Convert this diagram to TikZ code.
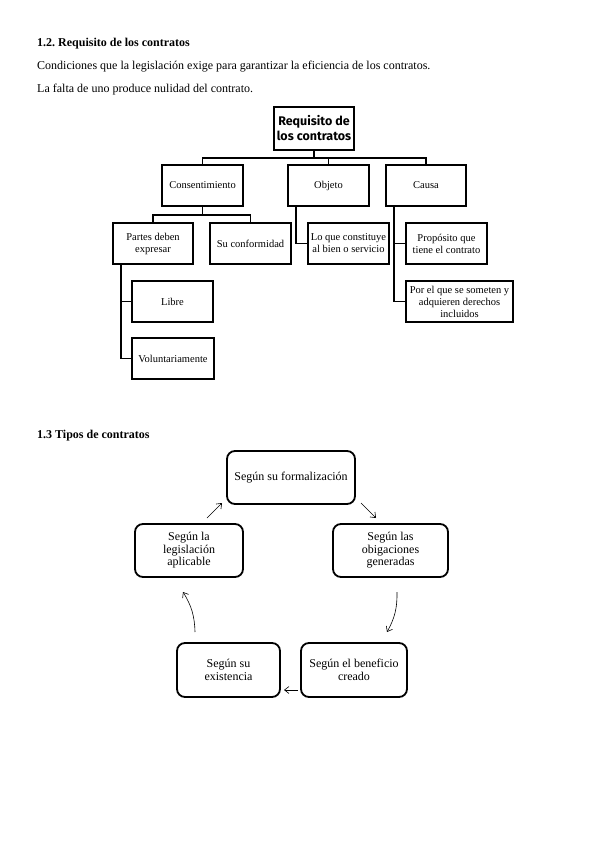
\documentclass[tikz,border=0pt]{standalone}
\usepackage{fontspec}
\setmainfont{Liberation Serif}
\newfontfamily\titlefont{Fira Sans}
\usetikzlibrary{arrows.meta}
\frenchspacing
\begin{document}
\begin{tikzpicture}[x=1pt,y=-1pt,
  treebox/.style={draw,line width=1.1pt,inner sep=1pt,align=center,font=\fontsize{10.5}{12}\selectfont},
  roundbox/.style={draw,line width=1.8pt,rounded corners=8pt,inner sep=1pt,align=center,font=\fontsize{12}{12.5}\selectfont},
  link/.style={line width=1.2pt},
  cyc/.style={line width=0.6pt,-{Straight Barb[length=4.5pt,width=7pt]}},
  txt/.style={anchor=west,inner sep=0pt,font=\fontsize{12}{14}\selectfont}]
\useasboundingbox (0,0) rectangle (599,848);
\fill[white] (0,0) rectangle (599,848);

% headings and text
\node[txt,font=\fontsize{12}{14}\selectfont\bfseries] (h1) at (37,44) {1.2. Requisito de los contratos};
\node[txt] (t1) at (37,67) {Condiciones que la legislación exige para garantizar la eficiencia de los contratos.};
\node[txt] (t2) at (37,90) {La falta de uno produce nulidad del contrato.};
\node[txt,font=\fontsize{12}{14}\selectfont\bfseries] (h2) at (37,436) {1.3 Tipos de contratos};

% tree
\node[treebox,line width=1.5pt,minimum width=80pt,minimum height=43pt,font=\titlefont\bfseries\fontsize{12.5}{15}\selectfont] (root) at (314,128.5) {Requisito de\\los contratos};
\node[treebox,minimum width=81pt,minimum height=41pt] (cons) at (202.5,185.5) {Consentimiento};
\node[treebox,minimum width=81pt,minimum height=41pt] (obj) at (328.5,185.5) {Objeto};
\node[treebox,minimum width=80pt,minimum height=41pt] (causa) at (426,185.5) {Causa};
\node[treebox,minimum width=80pt,minimum height=41pt] (partes) at (153,243.5) {Partes deben\\expresar};
\node[treebox,minimum width=81pt,minimum height=41pt] (conf) at (250.5,243.5) {Su conformidad};
\node[treebox,minimum width=81pt,minimum height=41pt] (loque) at (348.5,243.5) {Lo que constituye\\al bien o servicio};
\node[treebox,minimum width=81pt,minimum height=41pt] (prop) at (446.5,243.5) {Propósito que\\tiene el contrato};
\node[treebox,minimum width=107pt,minimum height=41pt] (porel) at (459.5,301.5) {Por el que se someten y\\adquieren derechos\\incluidos};
\node[treebox,minimum width=81pt,minimum height=41pt] (libre) at (172.5,301.5) {Libre};
\node[treebox,minimum width=82pt,minimum height=41pt] (volun) at (173,358.5) {Voluntariamente};

\coordinate (bus1) at (314,158);
\coordinate (bus2) at (202.5,215);
\coordinate (oz) at (296,206);
\coordinate (cz) at (394,206);
\coordinate (pz) at (121,264);

\draw[link] (root.south) -- (bus1);
\draw[link] (cons.north) |- (bus1) -| (causa.north);
\draw[link] (obj.north) -- (obj.north |- bus1);
\draw[link] (cons.south) -- (bus2);
\draw[link] (partes.north) |- (bus2) -| (conf.north);
\draw[link] (oz) |- (loque.west);
\draw[link] (cz) |- (porel.west);
\draw[link] (prop.west) -- (prop.west -| cz);
\draw[link] (pz) |- (volun.west);
\draw[link] (libre.west) -- (libre.west -| pz);

% cycle
\node[roundbox,minimum width=128pt,minimum height=53pt] (form) at (291,477.5) {Según su formalización};
\node[roundbox,minimum width=115pt,minimum height=53pt] (oblig) at (390.5,550.5) {Según las\\obigaciones\\generadas};
\node[roundbox,minimum width=106pt,minimum height=54pt] (benef) at (354,670) {Según el beneficio\\creado};
\node[roundbox,minimum width=103pt,minimum height=54pt] (exist) at (228.5,670) {Según su\\existencia};
\node[roundbox,minimum width=108pt,minimum height=53pt] (legis) at (189,550.5) {Según la\\legislación\\aplicable};

\coordinate (a1s) at (207,518); \coordinate (a1e) at (222,503);
\coordinate (a2s) at (361,503); \coordinate (a2e) at (376,518);
\coordinate (a3s) at (397,592); \coordinate (a3e) at (387,632);
\coordinate (a4s) at (195,632); \coordinate (a4e) at (183,592);
\coordinate (a5s) at (298,690); \coordinate (a5e) at (284,690);

\draw[cyc] (a1s) -- (a1e);
\draw[cyc] (a2s) -- (a2e);
\draw[cyc] (a3s) to[bend left=15] (a3e);
\draw[cyc] (a4s) to[bend right=15] (a4e);
\draw[cyc] (a5s) -- (a5e);
\end{tikzpicture}
\end{document}
